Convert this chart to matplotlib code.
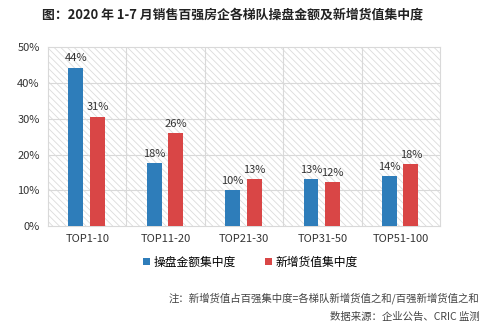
import matplotlib.pyplot as plt
import numpy as np
from matplotlib.patches import Rectangle

plt.rcParams['font.family'] = ['Noto Sans CJK SC', 'DejaVu Sans']
plt.rcParams['hatch.linewidth'] = 0.6
plt.rcParams['hatch.color'] = '#dcdcdc'

categories = ["TOP1-10", "TOP11-20", "TOP21-30", "TOP31-50", "TOP51-100"]
caopan = [44.3, 17.6, 10.0, 13.2, 14.0]
xinzeng = [30.6, 25.9, 13.2, 12.2, 17.4]
labels_caopan = ["44%", "18%", "10%", "13%", "14%"]
labels_xinzeng = ["31%", "26%", "13%", "12%", "18%"]
yticks = [0, 10, 20, 30, 40, 50]

fig = plt.figure(figsize=(5.01, 3.34), dpi=100)
ax = fig.add_axes([0.096, 0.323, 0.782, 0.536])

x = np.arange(len(categories))
w = 0.19

# fond hachuré
ax.add_patch(Rectangle((0, 0), 1, 1, transform=ax.transAxes, facecolor='white',
                       edgecolor='#dcdcdc', hatch='\\\\\\\\\\', lw=0, zorder=0))

b1 = ax.bar(x - 0.145, caopan, w, color='#2E7DBA', zorder=3, label='操盘金额集中度')
b2 = ax.bar(x + 0.13, xinzeng, w, color='#D94646', zorder=3, label='新增货值集中度')
ax.bar_label(b1, labels=labels_caopan, padding=3, fontsize=8, color='#333333')
ax.bar_label(b2, labels=labels_xinzeng, padding=3, fontsize=8, color='#333333')

ax.set_xlim(-0.5, len(categories) - 0.5)
ax.set_ylim(0, 50)
ax.set_yticks(yticks)
ax.set_yticklabels([f"{t}%" for t in yticks], fontsize=8, color='#333333')
ax.set_xticks(x)
ax.set_xticklabels(categories, fontsize=8, color='#333333')
ax.tick_params(length=0, pad=6)

for t in yticks[1:-1]:
    ax.axhline(t, color='#d9d9d9', lw=0.8, zorder=1)
for b in np.arange(0.5, len(categories) - 0.5):
    ax.axvline(b, color='#d9d9d9', lw=0.8, zorder=1)
for s in ax.spines.values():
    s.set_color('#d9d9d9')
    s.set_linewidth(0.8)

fig.text(0.084, 0.955, "图：2020 年 1-7 月销售百强房企各梯队操盘金额及新增货值集中度",
         fontsize=9.3, fontweight='bold', va='center', ha='left', color='#222222')

fig.legend(handles=[b1, b2], loc='center', bbox_to_anchor=(0.5, 0.215), ncol=2,
           frameon=False, fontsize=8.5, handlelength=0.6, handleheight=0.6,
           handletextpad=0.3, columnspacing=2.5)

fig.text(0.957, 0.108, "注：新增货值占百强集中度=各梯队新增货值之和/百强新增货值之和",
         fontsize=7.5, ha='right', va='center', color='#444444')
fig.text(0.957, 0.052, "数据来源：企业公告、CRIC 监测",
         fontsize=7.5, ha='right', va='center', color='#444444')

fig.savefig("out.png", dpi=100)
